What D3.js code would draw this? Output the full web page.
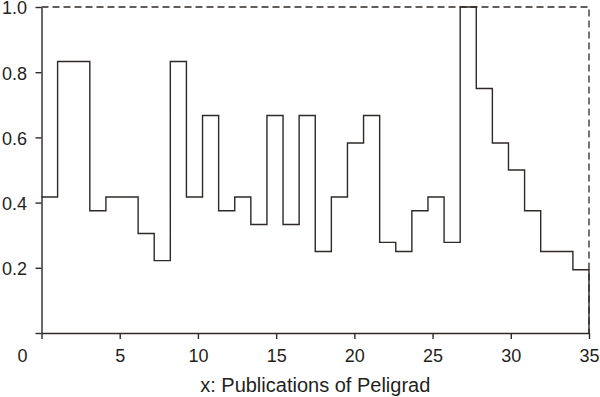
<!DOCTYPE html>
<html>
<head>
<meta charset="utf-8">
<script src="https://cdn.jsdelivr.net/npm/d3@7"></script>
<style>
  html, body { margin: 0; padding: 0; background: #fff; }
  svg { display: block; }
  text { font-family: "Liberation Sans", Arial, Helvetica, sans-serif; fill: #231f20; }
</style>
</head>
<body>
<svg id="chart" width="600" height="397"></svg>
<script>
// ---- data ----
const xMax = 35;
const binValues = [
  0.417, 0.833, 0.833, 0.375, 0.417, 0.417, 0.305, 0.222, 0.833, 0.417,
  0.667, 0.375, 0.417, 0.333, 0.667, 0.333, 0.667, 0.25, 0.417, 0.583,
  0.667, 0.278, 0.25, 0.375, 0.417, 0.278, 1.0, 0.75, 0.583, 0.5,
  0.375, 0.25, 0.25, 0.194
];
const xTicks = [0, 5, 10, 15, 20, 25, 30, 35];
const yTicks = [0, 0.2, 0.4, 0.6, 0.8, 1.0];
const yTickLabels = ["", "0.2", "0.4", "0.6", "0.8", "1.0"];
const xTitle = "x: Publications of Peligrad";

// ---- layout ----
const W = 600, H = 397;
const m = { left: 41.5, right: 11, top: 7, bottom: 64 };
const lineColor = "#2e2826";

const svg = d3.select("#chart");
const x = d3.scaleLinear().domain([0, xMax]).range([m.left, W - m.right]);
const y = d3.scaleLinear().domain([0, 1]).range([H - m.bottom, m.top]);

// dashed upper bound box
const dashPath = d3.line().x(d => x(d[0])).y(d => y(d[1]));
svg.append("path")
  .attr("d", dashPath([[0, 1], [xMax, 1], [xMax, 0]]))
  .attr("fill", "none")
  .attr("stroke", lineColor)
  .attr("stroke-width", 1.3)
  .attr("stroke-dasharray", "7,4");

// step function
const n = binValues.length;
const pts = binValues.map((v, i) => [i * xMax / n, v]);
pts.push([xMax, binValues[n - 1]]);
pts.push([xMax, 0]);
const stepLine = d3.line().x(d => x(d[0])).y(d => y(d[1])).curve(d3.curveStepAfter);
svg.append("path")
  .attr("d", stepLine(pts))
  .attr("fill", "none")
  .attr("stroke", lineColor)
  .attr("stroke-width", 1.4);

// axes
const xAxis = d3.axisBottom(x).tickValues(xTicks).tickFormat(d3.format("d"))
  .tickSize(6).tickSizeOuter(0);
const gx = svg.append("g").attr("transform", `translate(0,${y(0)})`).call(xAxis);
gx.selectAll("path.domain").attr("stroke", lineColor).attr("stroke-width", 1.4);
gx.selectAll(".tick line").attr("stroke", lineColor).attr("stroke-width", 1.4);
gx.selectAll(".tick text")
  .attr("y", 29).attr("dy", null)
  .style("font-size", "18px")
  .attr("fill", "#231f20");
gx.selectAll(".tick").filter(d => d === 0).select("text")
  .attr("x", -14.5).attr("text-anchor", "end");

const yAxis = d3.axisLeft(y).tickValues(yTicks)
  .tickFormat((d, i) => yTickLabels[i])
  .tickSize(6).tickPadding(8.5).tickSizeOuter(0);
const gy = svg.append("g").attr("transform", `translate(${x(0)},0)`).call(yAxis);
gy.selectAll("path.domain").attr("stroke", lineColor).attr("stroke-width", 1.4);
gy.selectAll(".tick line").attr("stroke", lineColor).attr("stroke-width", 1.4);
gy.selectAll(".tick text")
  .attr("dy", "0.38em")
  .style("font-size", "18px")
  .attr("fill", "#231f20");

// x title
svg.append("text")
  .attr("x", (x(0) + x(xMax)) / 2)
  .attr("y", 392)
  .attr("text-anchor", "middle")
  .style("font-size", "20px")
  .text(xTitle);
</script>
</body>
</html>
